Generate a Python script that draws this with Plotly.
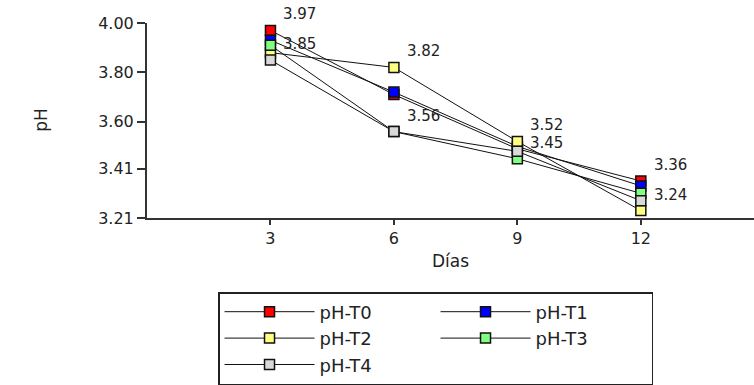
import plotly.graph_objects as go

dias = [3, 6, 9, 12]
series_names = ["pH-T0", "pH-T1", "pH-T2", "pH-T3", "pH-T4"]
ph_t0 = [3.97, 3.71, 3.49, 3.36]
ph_t1 = [3.93, 3.72, 3.50, 3.34]
ph_t2 = [3.88, 3.82, 3.52, 3.24]
ph_t3 = [3.91, 3.56, 3.45, 3.31]
ph_t4 = [3.85, 3.56, 3.48, 3.28]
series_values = [ph_t0, ph_t1, ph_t2, ph_t3, ph_t4]
colors = ["#ff0000", "#0000ff", "#ffff80", "#80ff80", "#d9d9d9"]

label_x = [3, 3, 6, 6, 9, 9, 12, 12]
label_values = [3.97, 3.85, 3.82, 3.56, 3.52, 3.45, 3.36, 3.24]

y_ticks = [3.21, 3.41, 3.60, 3.80, 4.00]
x_ticks = [3, 6, 9, 12]

FONT = "DejaVu Sans"
TXT = "#222222"

fig = go.Figure()
for name, vals, col in zip(series_names, series_values, colors):
    fig.add_trace(go.Scatter(
        x=dias, y=vals, name=name, mode="lines+markers",
        line=dict(color="#111111", width=1),
        marker=dict(symbol="square", size=10, color=col,
                    line=dict(color="#111111", width=1.5)),
        cliponaxis=False,
    ))

for xv, yv in zip(label_x, label_values):
    fig.add_annotation(x=xv, y=yv, xref="x", yref="y", text=f"{yv:.2f}",
                       showarrow=False, xanchor="left", yanchor="middle",
                       xshift=12, yshift=16, borderpad=0,
                       font=dict(family=FONT, size=15, color=TXT))

fig.add_annotation(x=0.5, y=-0.22, xref="paper", yref="paper", text="Días",
                   showarrow=False, xanchor="center", yanchor="middle",
                   font=dict(family=FONT, size=17, color=TXT))
fig.add_annotation(x=-0.176, y=0.505, xref="paper", yref="paper", text="pH",
                   textangle=-90, showarrow=False, xanchor="center", yanchor="middle",
                   font=dict(family=FONT, size=17, color=TXT))

fig.update_layout(
    width=754, height=385,
    margin=dict(l=147, r=0, t=23, b=166),
    plot_bgcolor="white", paper_bgcolor="white",
    font=dict(family=FONT, size=16, color=TXT),
    showlegend=True,
    legend=dict(
        orientation="h", x=0.117, y=-0.378, xanchor="left", yanchor="top",
        bordercolor="#222222", borderwidth=1.5,
        entrywidth=111, entrywidthmode="pixels", itemwidth=90,
        font=dict(family=FONT, size=18, color=TXT),
        traceorder="normal",
    ),
    xaxis=dict(range=[0, 14.75], tickvals=x_ticks, ticktext=[str(v) for v in x_ticks],
               showgrid=False, zeroline=False, showline=True, linecolor="#333333",
               linewidth=2, ticks="outside", ticklen=5, tickwidth=2, tickcolor="#333333",
               tickfont=dict(family=FONT, size=16, color=TXT)),
    yaxis=dict(range=[3.21, 4.00], tickvals=y_ticks, ticktext=[f"{v:.2f}" for v in y_ticks],
               showgrid=False, zeroline=False, showline=True, linecolor="#333333",
               linewidth=2, ticks="outside", ticklen=8, tickwidth=2, tickcolor="#333333",
               tickfont=dict(family=FONT, size=16, color=TXT)),
)

fig.write_html("out.html")
